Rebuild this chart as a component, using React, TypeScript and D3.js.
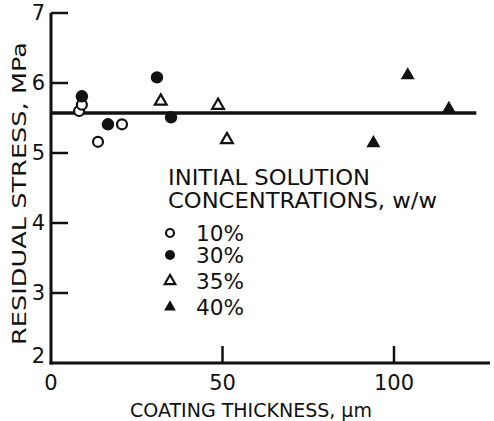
import React from "react";
import * as d3 from "d3";

// residual stress (MPa) vs coating thickness (um), one list per concentration
const conc10 = [[8.2, 5.6], [9, 5.69], [13.7, 5.16], [20.7, 5.41]];
const conc30 = [[9, 5.81], [16.6, 5.41], [30.9, 6.08], [35, 5.51]];
const conc35 = [[32, 5.74], [48.7, 5.68], [51.3, 5.19]];
const conc40 = [[94, 5.14], [104, 6.11], [116, 5.63]];

const meanStress = 5.57;
const meanRange = [0, 124];

const xTicks = [0, 50, 100];
const yTicks = [2, 3, 4, 5, 6, 7];
const legendLabels = ["10%", "30%", "35%", "40%"];

const FONT = "'DejaVu Sans', sans-serif";

export default function App() {
  const width = 494, height = 421;
  const x = d3.scaleLinear().domain([0, 100]).range([51, 394]);
  const y = d3.scaleLinear().domain([2, 7]).range([363, 13]);

  const triOpen = d3.symbol(d3.symbolTriangle, 60)();
  const triFilled = d3.symbol(d3.symbolTriangle, 85)();
  const triLegOpen = d3.symbol(d3.symbolTriangle, 48)();
  const triLegFilled = d3.symbol(d3.symbolTriangle, 60)();

  const marker = (kind: number, cx: number, cy: number, key: string, legend = false) => {
    if (kind === 0)
      return <circle key={key} cx={cx} cy={cy} r={legend ? 4 : 5} fill="#fff" stroke="#111" strokeWidth={2.2} />;
    if (kind === 1)
      return <circle key={key} cx={cx} cy={cy} r={legend ? 5 : 6.2} fill="#111" />;
    if (kind === 2)
      return <path key={key} d={legend ? triLegOpen : triOpen} transform={`translate(${cx},${cy})`}
        fill="#fff" stroke="#111" strokeWidth={2.2} />;
    return <path key={key} d={legend ? triLegFilled : triFilled} transform={`translate(${cx},${cy})`} fill="#111" />;
  };

  const series = [conc10, conc30, conc35, conc40];
  const legendY = [233, 255, 281, 307];

  return (
    <svg width={width} height={height} style={{ position: "absolute", left: 0, top: 0, background: "#fff" }}
      fontFamily={FONT}>
      {/* axes */}
      <line x1={x(0)} x2={x(0)} y1={y(7)} y2={y(2) + 1.5} stroke="#111" strokeWidth={3} />
      <line x1={x(0) - 1.5} x2={x(128)} y1={y(2)} y2={y(2)} stroke="#111" strokeWidth={3} />
      {yTicks.filter(t => t > 2).map(t => (
        <line key={"yt" + t} x1={x(0)} x2={x(0) + 17} y1={y(t)} y2={y(t)} stroke="#111" strokeWidth={2.5} />
      ))}
      {xTicks.filter(t => t > 0).map(t => (
        <line key={"xt" + t} x1={x(t)} x2={x(t)} y1={y(2)} y2={y(2) - 17} stroke="#111" strokeWidth={2.5} />
      ))}
      {yTicks.map(t => (
        <text key={"yl" + t} x={45} y={y(t) + (t === 2 ? 0 : 7)} textAnchor="end" fontSize={21} fill="#111">{t}</text>
      ))}
      {xTicks.map(t => (
        <text key={"xl" + t} x={x(t)} y={390} textAnchor="middle" fontSize={21} fill="#111">{t}</text>
      ))}

      {/* titles */}
      <text x={130} y={417} fontSize={19} fill="#111" textLength={242} lengthAdjust="spacingAndGlyphs">
        COATING THICKNESS, μm
      </text>
      <text transform={`translate(26,345) rotate(-90)`} fontSize={20} fill="#111" textLength={303}
        lengthAdjust="spacingAndGlyphs">RESIDUAL STRESS, MPa</text>

      {/* mean line */}
      <line x1={x(meanRange[0])} x2={x(meanRange[1])} y1={y(meanStress)} y2={y(meanStress)}
        stroke="#111" strokeWidth={3.5} />

      {/* points */}
      {series.map((s, i) => s.map((d, j) => marker(i, x(d[0]), y(d[1]), `p${i}-${j}`)))}

      {/* legend */}
      <text x={168} y={185} fontSize={21} fill="#111" textLength={202} lengthAdjust="spacingAndGlyphs">INITIAL SOLUTION</text>
      <text x={168} y={208} fontSize={21} fill="#111" textLength={269} lengthAdjust="spacingAndGlyphs">CONCENTRATIONS, w/w</text>
      {legendLabels.map((l, i) => (
        <g key={"lg" + i}>
          {marker(i, 170, legendY[i], "lm" + i, true)}
          <text x={196} y={legendY[i] + 8} fontSize={21} fill="#111" textLength={48} lengthAdjust="spacingAndGlyphs">{l}</text>
        </g>
      ))}
    </svg>
  );
}
